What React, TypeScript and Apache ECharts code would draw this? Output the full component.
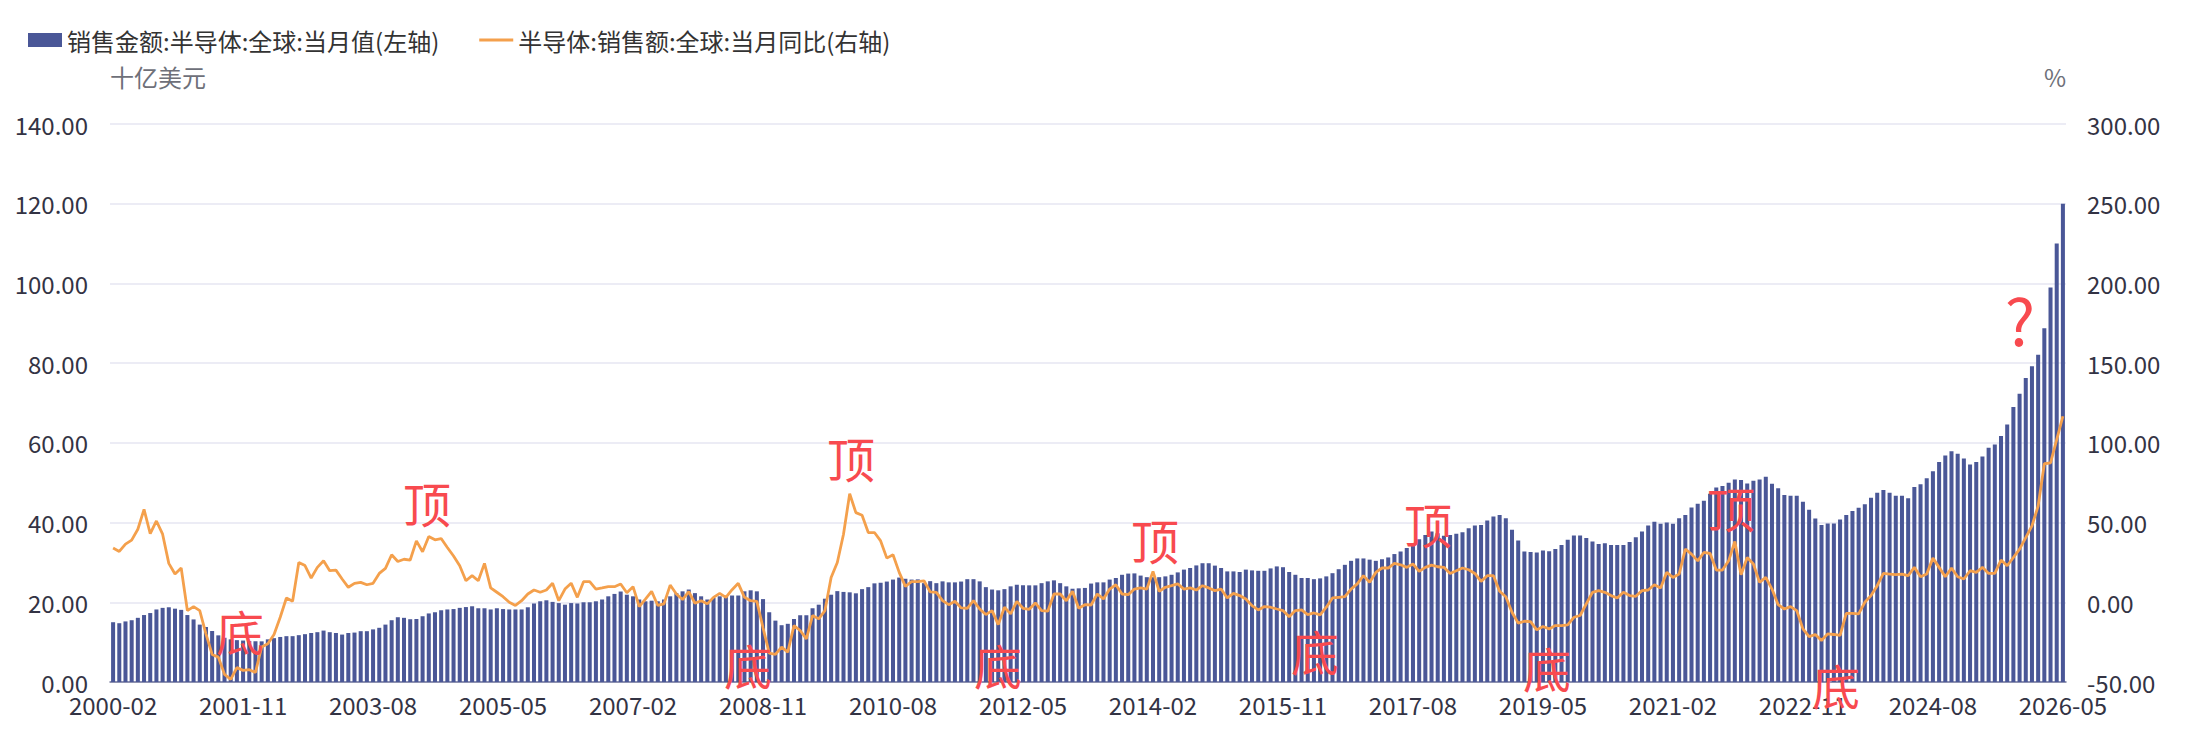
import React, { useEffect, useRef } from "react";
import * as echarts from "echarts";

// ---- data ----
const startYear = 2000;
const startMonth = 2;
const monthCount = 316;
const months: string[] = [];
for (let k = 0; k < monthCount; k++) {
  const m0 = startMonth - 1 + k;
  const y = startYear + Math.floor(m0 / 12);
  const m = (m0 % 12) + 1;
  months.push(`${y}-${m < 10 ? "0" + m : m}`);
}

// 销售金额:半导体:全球:当月值 (十亿美元)
const salesValues: number[] = [
  15.0, 14.75, 15.2, 15.5, 16.1, 16.8, 17.3, 18.2, 18.6, 18.75,
  18.4, 18.1, 16.8, 15.7, 14.4, 13.8, 12.8, 11.7, 11.1, 10.7,
  10.5, 10.4, 10.3, 10.25, 10.2, 10.7, 11.0, 11.3, 11.5, 11.5,
  11.75, 12.0, 12.3, 12.5, 12.9, 12.5, 12.3, 11.9, 12.3, 12.4,
  12.75, 12.75, 13.2, 13.6, 14.4, 15.5, 16.25, 16.1, 15.75, 15.8,
  16.5, 17.2, 17.5, 18.0, 18.2, 18.3, 18.6, 18.8, 19.0, 18.5,
  18.5, 18.2, 18.5, 18.3, 18.2, 18.2, 18.2, 18.75, 19.7, 20.25,
  20.5, 20.1, 19.8, 19.4, 19.8, 19.7, 20.0, 20.0, 20.25, 20.7,
  21.5, 22.1, 22.7, 21.9, 21.5, 20.7, 20.25, 20.4, 20.25, 20.7,
  21.5, 22.3, 22.75, 23.2, 22.3, 21.5, 20.7, 21.1, 21.5, 21.5,
  21.7, 21.7, 22.75, 23.0, 22.75, 20.8, 17.5, 15.4, 14.25, 14.6,
  15.8, 16.75, 16.75, 18.5, 19.4, 20.9, 21.9, 22.8, 22.6, 22.5,
  22.25, 23.3, 23.8, 24.75, 24.9, 25.2, 25.7, 26.2, 25.9, 25.7,
  25.75, 24.8, 25.3, 24.8, 25.25, 25.0, 25.0, 25.2, 25.8, 25.8,
  25.25, 23.8, 23.2, 23.0, 23.3, 24.0, 24.4, 24.3, 24.25, 24.25,
  24.8, 25.25, 25.5, 24.8, 24.0, 23.4, 23.5, 23.6, 24.7, 25.0,
  25.0, 25.7, 26.1, 26.9, 27.2, 27.25, 26.7, 26.3, 26.3, 26.3,
  26.5, 26.9, 27.5, 28.2, 28.6, 29.25, 29.8, 29.8, 29.2, 28.6,
  27.75, 27.75, 27.6, 28.2, 28.0, 27.9, 27.9, 28.5, 29.0, 28.8,
  27.6, 26.9, 26.1, 26.1, 25.8, 26.0, 26.5, 27.3, 28.3, 29.4,
  30.4, 31.0, 31.0, 30.7, 30.4, 30.8, 31.25, 32.1, 32.75, 33.6,
  34.8, 35.8, 36.9, 37.75, 37.3, 36.7, 36.9, 37.2, 37.6, 38.6,
  39.25, 39.4, 40.5, 41.5, 41.9, 41.1, 38.2, 35.5, 32.75, 32.6,
  32.5, 33.0, 32.8, 33.4, 34.4, 35.7, 36.75, 36.75, 36.1, 35.25,
  34.6, 34.8, 34.4, 34.4, 34.4, 35.1, 36.3, 37.75, 39.25, 40.2,
  39.7, 40.0, 39.7, 41.1, 41.9, 43.8, 44.7, 45.5, 47.2, 48.8,
  49.2, 50.0, 50.8, 50.7, 49.8, 50.5, 50.8, 51.5, 49.75, 48.6,
  46.9, 46.7, 46.7, 45.25, 43.2, 41.0, 39.4, 39.75, 39.75, 40.8,
  41.9, 42.9, 43.75, 44.6, 46.25, 47.5, 48.2, 47.5, 46.7, 46.7,
  46.1, 48.9, 49.6, 51.1, 52.9, 55.2, 56.8, 57.9, 57.25, 56.1,
  54.6, 55.2, 56.6, 58.75, 59.6, 61.7, 64.6, 69.0, 72.3, 76.25,
  79.2, 82.1, 88.75, 99.0, 110.0, 120.0,
];

// 半导体:销售额:全球:当月同比 (%)
const yoyValues: number[] = [
  34, 31.9, 36.5, 39, 45.8, 58.3, 43, 51, 42.7, 24.4,
  17.7, 21.5, -5.2, -2.7, -5.2, -19.8, -32.7, -34.4, -45.2, -48.3,
  -41, -42.7, -42.3, -44, -28, -26, -20.2, -9.4, 2.7, 0.6,
  25, 23, 15.2, 21.9, 26, 19.8, 20.2, 14.6, 9.4, 11.9,
  12.5, 11, 11.9, 18.1, 21.3, 29.8, 25.6, 27, 26.5, 38.5,
  31.7, 41.3, 39.2, 40, 34.4, 29, 22.9, 13.5, 16.7, 13.5,
  24.4, 9, 6.3, 3.5, 0, -2, 1, 5.2, 7.7, 6.3,
  7.7, 11.9, 1, 8.3, 12, 3.1, 12.9, 12.9, 8.3, 9,
  9.8, 9.8, 11.5, 6, 9.8, -2.7, 2, 6.9, -2, -1,
  10.8, 5.2, 1.7, 6.7, -0.6, 1, -1, 3.1, 5.6, 3.1,
  7.9, 11.9, 3.1, 1, 0.6, -16, -31.9, -32.7, -28.1, -31.25,
  -14.6, -17.7, -22.9, -8.3, -10.4, -5.2, 15.6, 25, 42.7, 68.1,
  56.25, 54.6, 43.75, 43.75, 38.5, 27.7, 29.8, 18.75, 10, 12.9,
  12.9, 13.5, 6.5, 6.25, 1, -1.5, 0.6, -3.5, -3.75, 1,
  -4.2, -7.7, -5.2, -14, -3.1, -7.3, 0.6, -3.75, -4.4, -0.4,
  -5.2, -5.6, 5.2, 5.2, 1, 6.9, -3.75, -1.5, -1.7, 5.2,
  2.1, 8.3, 11, 5.2, 4.8, 8.3, 9, 8.3, 19.4, 6.9,
  9.4, 10.4, 11.5, 8.3, 9, 7.7, 10.4, 9, 7.3, 8.3,
  2.7, 5.6, 4.2, 2.1, -2.1, -4.8, -2.7, -3.1, -4.2, -5.2,
  -9, -5.2, -4.8, -7.7, -6.7, -7.9, -3.1, 2.7, 3.1, 3.5,
  8.3, 11.5, 16.7, 12.5, 18.75, 21.5, 21.5, 24.4, 23.5, 21.9,
  24, 19.4, 21.9, 23.3, 22.3, 21.9, 18.1, 19.8, 21.5, 20.4,
  18.1, 13.1, 16.7, 16.7, 6.9, 3.5, -6.25, -13.1, -11.9, -12.1,
  -17.3, -15.2, -16.7, -14.6, -14.6, -14.2, -9.4, -8.3, -1, 6.25,
  7.3, 6.25, 4.2, 2.7, 6.25, 4.2, 3.75, 7.3, 7.7, 11,
  9, 18.75, 15.6, 17.7, 33.3, 30.2, 26, 31.25, 30.6, 20.2,
  20.2, 26, 38.1, 17.3, 28.1, 24, 12.5, 15.6, 8.3, -1.5,
  -4.2, -2.7, -5.2, -16.7, -21.5, -20.2, -24, -19.8, -20.2, -20.8,
  -6.9, -6.9, -7.3, 0, 4.2, 10.4, 18.1, 17.7, 17.3, 17.7,
  16.7, 21.9, 16, 17.7, 27.7, 21.9, 16, 21.5, 16, 14.6,
  19.8, 18.75, 21.9, 18.1, 18.1, 26.5, 22.9, 28.1, 33.3, 40.6,
  47.9, 60.4, 86.9, 87.5, 102, 116.7,
];

const seriesNames = ["销售金额:半导体:全球:当月值(左轴)", "半导体:销售额:全球:当月同比(右轴)"];
const leftAxisName = "十亿美元";
const rightAxisName = "%";
const annotationTexts = ["底", "顶", "底", "顶", "底", "顶", "底", "顶", "底", "顶", "底", "?"];

// annotation placements (layout only)
const annotationSpots: [number, number][] = [
  [240, 630], [427, 502], [748, 664], [851, 457], [998, 664], [1155, 539],
  [1315, 650], [1428, 523], [1547, 667], [1731, 507], [1836, 684], [2020, 318],
];

const FONT = "'Noto Sans CJK SC', 'Noto Sans', sans-serif";
// thin horizontal bar icon; degenerate corner points keep the full icon box
const LINE_ICON = "path://M0,0 L0.01,0 L0,0 Z M0,5.6 L34,5.6 L34,8.4 L0,8.4 Z M34,14 L33.99,14 L34,14 Z";

export default function App() {
  const ref = useRef<HTMLDivElement>(null);
  useEffect(() => {
    document.body.style.margin = "0";
    if (!ref.current) return;
    const chart = echarts.init(ref.current, null, { renderer: "svg" });
    const graphics = annotationTexts.map((t, k) => ({
      type: "text",
      x: annotationSpots[k][0],
      y: annotationSpots[k][1],
      z: 100,
      style: {
        text: t,
        fill: "#f84a4f",
        fontSize: t === "?" ? 64 : 48,
        fontFamily: FONT,
        align: "center",
        verticalAlign: "middle",
        textAlign: "center",
        textVerticalAlign: "middle",
      },
    }));
    chart.setOption({
      animation: false,
      backgroundColor: "#ffffff",
      textStyle: { fontFamily: FONT },
      legend: {
        left: 23,
        top: 23,
        itemWidth: 34,
        itemHeight: 14,
        itemGap: 40,
        textStyle: { fontSize: 24, color: "#333", fontFamily: FONT },
        data: [
          { name: seriesNames[0], icon: "rect" },
          { name: seriesNames[1], icon: LINE_ICON, itemStyle: { color: "#f4a04c", borderWidth: 0 } },
        ],
      },
      grid: { left: 110, right: 128, top: 124, bottom: 58, containLabel: false },
      xAxis: {
        type: "category",
        data: months,
        boundaryGap: true,
        axisLine: { show: true, lineStyle: { color: "#6e7399", width: 1.5 } },
        axisTick: { show: false },
        axisLabel: { interval: 20, fontSize: 24, color: "#333344", margin: 10, fontFamily: FONT },
        splitLine: { show: false },
      },
      yAxis: [
        {
          type: "value",
          min: 0,
          max: 140,
          interval: 20,
          name: leftAxisName,
          nameLocation: "end",
          nameGap: 36,
          nameTextStyle: { fontSize: 24, color: "#6e7079", align: "left", fontFamily: FONT },
          axisLine: { show: false },
          axisTick: { show: false },
          axisLabel: { fontSize: 24, color: "#333344", margin: 22, formatter: (v: number) => v.toFixed(2), fontFamily: FONT },
          splitLine: { show: true, lineStyle: { color: "#e6e6f2", width: 1.5 } },
        },
        {
          type: "value",
          min: -50,
          max: 300,
          interval: 50,
          name: rightAxisName,
          nameLocation: "end",
          nameGap: 36,
          nameTextStyle: { fontSize: 24, color: "#6e7079", align: "right", fontFamily: FONT },
          axisLine: { show: false },
          axisTick: { show: false },
          axisLabel: { fontSize: 24, color: "#333344", margin: 21, formatter: (v: number) => v.toFixed(2), fontFamily: FONT },
          splitLine: { show: false },
        },
      ],
      series: [
        {
          name: seriesNames[0],
          type: "bar",
          data: salesValues,
          yAxisIndex: 0,
          barCategoryGap: "35%",
          itemStyle: { color: "#4a5797" },
        },
        {
          name: seriesNames[1],
          type: "line",
          data: yoyValues,
          yAxisIndex: 1,
          symbol: "none",
          showSymbol: false,
          lineStyle: { color: "#f4a04c", width: 2.8 },
          itemStyle: { color: "#f4a04c" },
          z: 3,
        },
      ],
      graphic: graphics,
    });
    return () => chart.dispose();
  }, []);
  return <div ref={ref} style={{ width: 2194, height: 740 }} />;
}
